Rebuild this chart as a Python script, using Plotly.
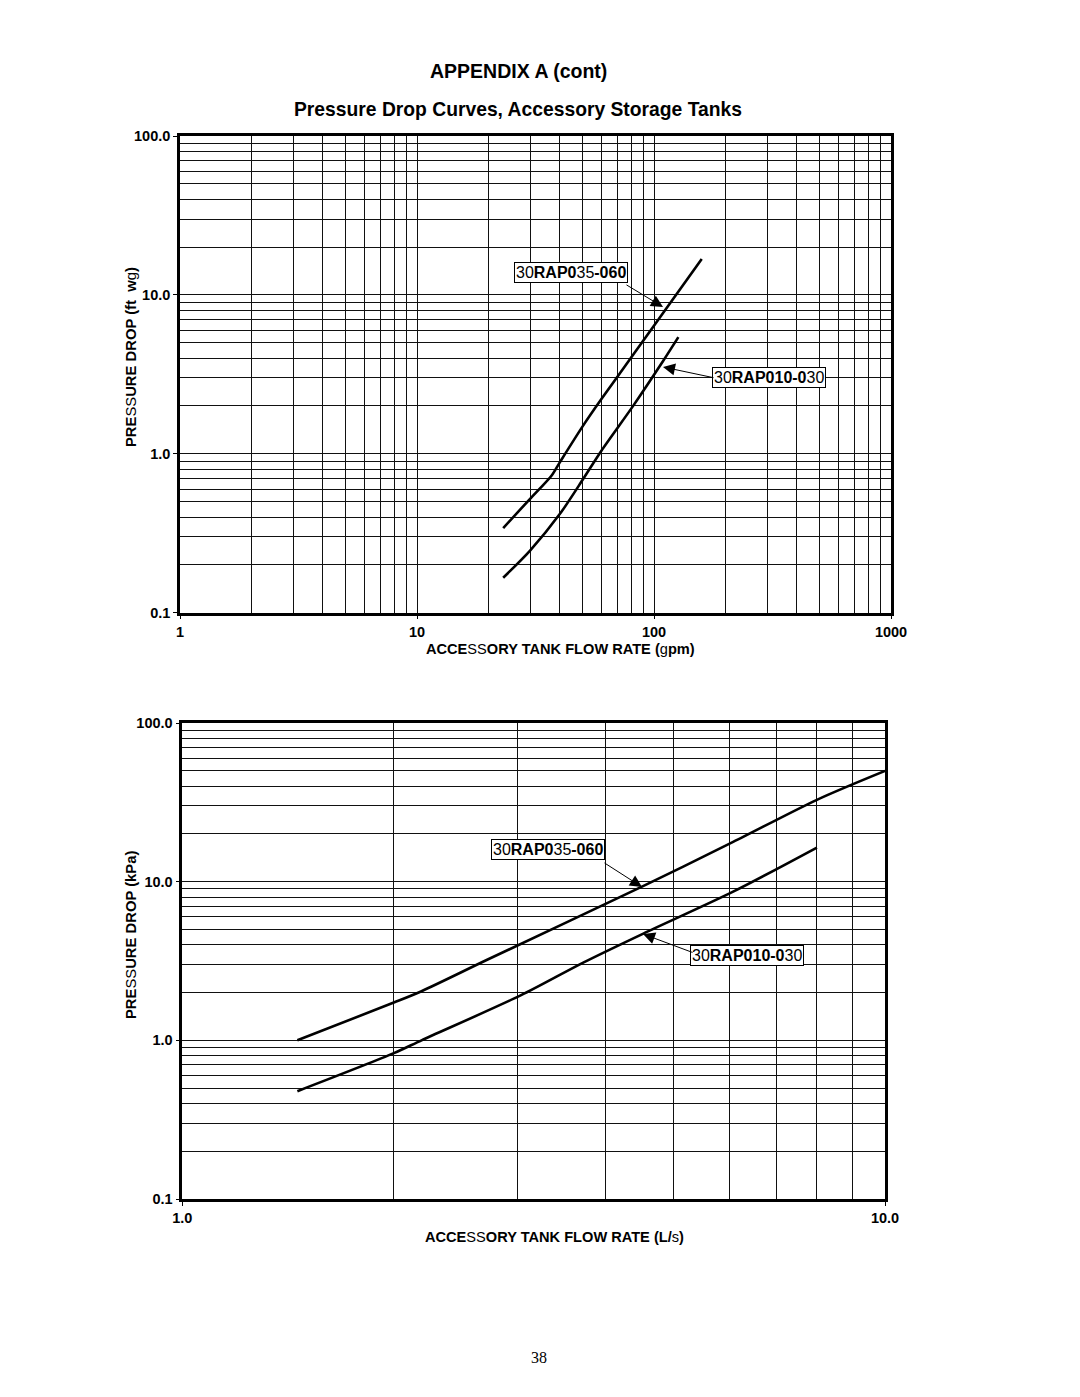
import plotly.graph_objects as go

# ---------------- data ----------------
# Top chart: flow in gpm, pressure drop in ft wg
gpm_035_060 = [23.1, 30.0, 37.0, 40.1, 50.3, 60.1, 81.8, 109.4, 159.0]
ftwg_035_060 = [0.341, 0.521, 0.731, 0.887, 1.51, 2.22, 4.21, 7.73, 16.8]
gpm_010_030 = [23.1, 30.0, 40.1, 50.3, 60.1, 81.8, 109.4, 126.7]
ftwg_010_030 = [0.166, 0.246, 0.419, 0.696, 1.05, 2.01, 3.85, 5.42]

# Bottom chart: flow in L/s, pressure drop in kPa
ls_035_060 = [1.458, 2.00, 2.19, 2.72, 4.51, 6.08, 8.00, 10.0]
kpa_035_060 = [1.00, 1.73, 2.04, 3.23, 9.3, 17.8, 32.8, 49.9]
ls_010_030 = [1.458, 2.00, 2.19, 3.03, 3.72, 4.53, 6.08, 8.00]
kpa_010_030 = [0.478, 0.83, 1.00, 1.92, 3.09, 4.71, 8.65, 16.4]

W, H = 1080, 1397
FONT = "Liberation Sans, Arial, Helvetica, sans-serif"


def px(x):
    return x / W


def py(y):
    return 1 - y / H


fig = go.Figure()

line_style = dict(color="black", width=2.6, shape="spline", smoothing=0.8)
fig.add_trace(go.Scatter(x=gpm_035_060, y=ftwg_035_060, mode="lines", line=line_style,
                         xaxis="x", yaxis="y", showlegend=False))
fig.add_trace(go.Scatter(x=gpm_010_030, y=ftwg_010_030, mode="lines", line=line_style,
                         xaxis="x", yaxis="y", showlegend=False))
fig.add_trace(go.Scatter(x=ls_035_060, y=kpa_035_060, mode="lines", line=line_style,
                         xaxis="x2", yaxis="y2", showlegend=False))
fig.add_trace(go.Scatter(x=ls_010_030, y=kpa_010_030, mode="lines", line=line_style,
                         xaxis="x2", yaxis="y2", showlegend=False))

tickfont = dict(family=FONT, size=14.5, color="black", weight="bold")
minor = dict(dtick="D1", showgrid=True, gridcolor="#111", gridwidth=1, ticks="")


def axis(domain, rng, fmt, anchor):
    return dict(
        type="log", domain=domain, range=rng, anchor=anchor,
        dtick=1, tickformat=fmt, tickfont=tickfont,
        showgrid=True, gridcolor="#111", gridwidth=1,
        showline=True, linecolor="black", linewidth=2.5, mirror=True,
        ticks="outside", ticklen=4, tickwidth=1, tickcolor="black",
        minor=minor, zeroline=False, fixedrange=True, automargin=False,
    )


layout = dict(
    width=W, height=H,
    margin=dict(l=0, r=0, t=0, b=0, autoexpand=False),
    paper_bgcolor="white", plot_bgcolor="white",
    showlegend=False,
    xaxis=axis([180 / W, 891 / W], [0, 3], ".0f", "y"),
    yaxis=axis([py(612.7), py(136)], [-1, 2], ".1f", "x"),
    xaxis2=axis([182.3 / W, 885 / W], [0, 1], ".1f", "y2"),
    yaxis2=axis([py(1199), py(723)], [-1, 2], ".1f", "x2"),
)
fig.update_layout(**layout)

ann = []


def text(x, y, s, size=13, family=FONT, angle=0, anchor="center"):
    ann.append(dict(x=px(x), y=py(y), xref="paper", yref="paper", text=s,
                    showarrow=False, textangle=angle, xanchor=anchor, yanchor="middle",
                    font=dict(family=family, size=size, color="black")))


# titles
text(518, 71, "<b>APPENDIX A (cont)</b>", size=19.5)
text(518, 109, "<b>Pressure Drop Curves, Accessory Storage Tanks</b>", size=19.3)

# axis titles
text(560, 649, "<b>ACCE</b>SS<b>ORY TANK FLOW RATE (</b>g<b>pm)</b>", size=14.6)
text(554, 1237, "<b>ACCE</b>SS<b>ORY TANK FLOW RATE (L/</b>s<b>)</b>", size=14.6)
text(131, 357, "<b>PRE</b>SS<b>URE DROP (ft  w</b>g<b>)</b>", size=14.8, angle=-90)
text(131, 935, "<b>PRE</b>SS<b>URE DROP (kPa)</b>", size=14.8, angle=-90)

# page number
text(539, 1357, "38", size=16, family="Liberation Serif, Times New Roman, serif")


def box(x, y, s):
    ann.append(dict(x=px(x), y=py(y), xref="paper", yref="paper", text=s,
                    showarrow=False, xanchor="center", yanchor="middle",
                    bordercolor="black", borderwidth=1, borderpad=1, bgcolor="white",
                    font=dict(family=FONT, size=16, color="black")))


def arrow(tail, tip):
    ann.append(dict(x=px(tip[0]), y=py(tip[1]), xref="paper", yref="paper", text="",
                    showarrow=True, ax=tail[0] - tip[0], ay=tail[1] - tip[1],
                    arrowhead=2, arrowsize=2.4, arrowwidth=1, arrowcolor="black",
                    standoff=0, startstandoff=0))


lbl_035 = "30<b>RAP0</b>35<b>-060</b>"
lbl_010 = "30<b>RAP010-0</b>30"

box(571, 272, lbl_035)
arrow((625, 284), (663, 307))
box(769, 377, lbl_010)
arrow((715, 378), (663, 367))

box(548, 849, lbl_035)
arrow((603, 862), (642, 887))
box(746.5, 955, lbl_010)
arrow((694, 953), (643, 934))

fig.update_layout(annotations=ann)
fig.write_html("out.html", post_script="document.body.style.margin='0';")
